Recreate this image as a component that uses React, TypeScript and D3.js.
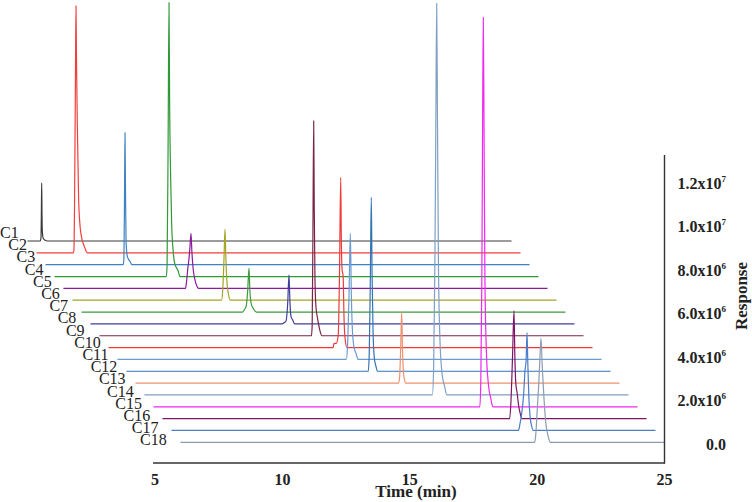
import React from "react";
import * as d3 from "d3";

type Pt = [number, number];

const seriesNames = ["C1","C2","C3","C4","C5","C6","C7","C8","C9","C10","C11","C12","C13","C14","C15","C16","C17","C18"];
const seriesColors = ["#3a3a3a","#f0403c","#3d82c4","#2f9a35","#8a1c9c","#a5a424","#3c9a3c","#3f3f9e","#7a2448","#f03a3a","#6b9ad0","#3474b4","#f0906e","#7f9fc4","#f028f0","#7e1464","#4a7cc8","#8c9cb4"];

const c1: Pt[] = [[6,0],[6.5,0],[6.53,0.15e6],[6.545,1.2e6],[6.558,2.67e6],[6.57,1.2e6],[6.585,0.4e6],[6.62,0.12e6],[6.7,0.03e6],[6.78,0],[25,0]];
const c2: Pt[] = [[6,0],[7.44,0],[7.47,0.1e6],[7.5,3e6],[7.535,9e6],[7.552,1.136e7],[7.57,9e6],[7.6,6.2e6],[7.655,2.4e6],[7.745,0.87e6],[7.9,0.23e6],[7.99,0],[25,0]];
const c3: Pt[] = [[6,0],[9.05,0],[9.08,0.3e6],[9.105,3.5e6],[9.122,6.07e6],[9.14,3.5e6],[9.165,1.0e6],[9.22,0.35e6],[9.32,0.15e6],[9.39,0],[25,0]];
const c4: Pt[] = [[6,0],[10.39,0],[10.42,0.5e6],[10.46,6e6],[10.496,1.26e7],[10.52,8e6],[10.56,4.6e6],[10.6,2.4e6],[10.65,1.3e6],[10.72,0.6e6],[10.85,0.28e6],[10.93,0],[25,0]];
const c5: Pt[] = [[6,0],[10.79,0],[10.83,0.3e6],[10.88,0.9e6],[10.93,1.4e6],[10.965,1.9e6],[11.006,2.53e6],[11.04,1.7e6],[11.09,0.9e6],[11.15,0.45e6],[11.24,0.1e6],[11.3,0],[25,0]];
const c6: Pt[] = [[6,0],[11.85,0],[11.9,0.5e6],[11.95,2e6],[11.987,3.26e6],[12.02,2e6],[12.06,0.9e6],[12.12,0.3e6],[12.2,0],[25,0]];
const c7: Pt[] = [[6,0],[12.32,0],[12.4,0.12e6],[12.47,0.3e6],[12.52,0.9e6],[12.576,2.02e6],[12.61,1.0e6],[12.66,0.4e6],[12.75,0.15e6],[12.86,0],[25,0]];
const c8: Pt[] = [[6,0],[13.5,0],[13.6,0.05e6],[13.68,0.15e6],[13.74,0.9e6],[13.793,2.25e6],[13.83,1.0e6],[13.87,0.35e6],[13.93,0.2e6],[14.02,0],[25,0]];
const c9: Pt[] = [[6,0],[14.32,0],[14.35,0.5e6],[14.38,5e6],[14.409,9.88e6],[14.43,6e6],[14.46,2.5e6],[14.5,1.3e6],[14.56,0.8e6],[14.64,0.3e6],[14.73,0],[25,0]];
const c10: Pt[] = [[6,0],[14.82,0],[14.85,0.18e6],[14.95,0.2e6],[15.02,0.6e6],[15.07,3.5e6],[15.116,7.82e6],[15.14,5e6],[15.17,3.6e6],[15.21,3.3e6],[15.25,1.2e6],[15.3,0.3e6],[15.36,0],[25,0]];
const c11: Pt[] = [[6,0],[14.98,0],[15.03,0.6e6],[15.09,3e6],[15.14,5.8e6],[15.18,3e6],[15.22,1.4e6],[15.28,0.6e6],[15.37,0.25e6],[15.45,0],[25,0]];
const c12: Pt[] = [[6,0],[15.49,0],[15.53,0.8e6],[15.57,4e6],[15.61,8.0e6],[15.64,4.5e6],[15.68,1.8e6],[15.73,0.6e6],[15.8,0.2e6],[15.85,0],[25,0]];
const c13: Pt[] = [[6,0],[16.33,0],[16.37,0.3e6],[16.41,1.6e6],[16.45,3.28e6],[16.48,1.6e6],[16.52,0.5e6],[16.57,0.1e6],[16.6,0],[25,0]];
const c14: Pt[] = [[6,0],[17.3,0],[17.35,1.2e6],[17.4,6e6],[17.44,1.3e7],[17.471,1.8e7],[17.5,1.3e7],[17.54,6e6],[17.6,2.5e6],[17.68,1.0e6],[17.78,0.4e6],[17.87,0],[25,0]];
const c15: Pt[] = [[6,0],[18.81,0],[18.85,1.2e6],[18.89,6e6],[18.92,1.3e7],[18.947,1.79e7],[18.975,1.3e7],[19.01,6e6],[19.07,2.5e6],[19.15,1e6],[19.24,0.4e6],[19.32,0],[25,0]];
const c16: Pt[] = [[6,0],[19.63,0],[19.68,0.8e6],[19.74,2.8e6],[19.799,4.97e6],[19.83,3e6],[19.87,1.6e6],[19.92,1.2e6],[19.98,0.6e6],[20.05,0.2e6],[20.1,0],[25,0]];
const c17: Pt[] = [[6,0],[19.62,0],[19.68,0.3e6],[19.75,0.8e6],[19.82,1.6e6],[19.88,2.8e6],[19.92,3.2e6],[19.956,4.5e6],[19.99,3e6],[20.03,1.5e6],[20.08,0.6e6],[20.14,0.2e6],[20.2,0],[25,0]];
const c18: Pt[] = [[6,0],[19.9,0],[19.95,0.4e6],[20.0,1.4e6],[20.06,2.6e6],[20.1,3.6e6],[20.152,4.78e6],[20.2,3.5e6],[20.27,2e6],[20.35,0.8e6],[20.45,0.2e6],[20.52,0],[25,0]];

const seriesPoints: Pt[][] = [c1,c2,c3,c4,c5,c6,c7,c8,c9,c10,c11,c12,c13,c14,c15,c16,c17,c18];

const timeTicks = [5, 10, 15, 20, 25];
const responseTicks = [0, 2e6, 4e6, 6e6, 8e6, 1e7, 1.2e7];

const W = 752, H = 502;
const DX = 9;        // horizontal depth step per series
const DY = 11.84;    // vertical depth step per series
const FRONT_BASE = 442.3;
const N = seriesNames.length;

export default function App() {
  const x = d3.scaleLinear().domain([5, 25]).range([155, 664.5]);
  const y = d3.scaleLinear().domain([0, 1.2e7]).range([FRONT_BASE, FRONT_BASE - 261]);
  const serif = "'Liberation Serif', 'Times New Roman', serif";

  const paths = seriesPoints.map((pts, i) => {
    const back = N - 1 - i;
    const ox = -back * DX;
    const oy = -back * DY;
    const line = d3.line<Pt>()
      .x(d => x(d[0]) + ox)
      .y(d => y(d[1]) + oy)
      .curve(d3.curveMonotoneX);
    return line(pts) || "";
  });

  const fmt = (v: number) => {
    if (v === 0) return { m: "0.0", e: "" };
    const e = Math.floor(Math.log10(v) + 1e-9);
    const m = v / Math.pow(10, e);
    return { m: m.toFixed(1) + "x10", e: String(e) };
  };

  return (
    <svg width={W} height={H} style={{ position: "absolute", left: 0, top: 0, background: "#fff" }}
      fontFamily={serif}>
      <rect x={0} y={0} width={W} height={H} fill="#fff" />
      {paths.map((d, i) => (
        <path key={seriesNames[i]} d={d} fill="none" stroke={seriesColors[i]} strokeWidth={1.2} strokeLinejoin="round" />
      ))}
      {seriesNames.map((n, i) => (
        <text key={"lab" + n} x={i * 8.24} y={238 + i * 12.2} fontSize={16} fill="#222">{n}</text>
      ))}
      {/* axes */}
      <line x1={153} x2={665} y1={463} y2={463} stroke="#333" strokeWidth={1.4} />
      <line x1={664.5} x2={664.5} y1={155} y2={463.5} stroke="#333" strokeWidth={1.4} />
      {timeTicks.map(t => (
        <text key={"t" + t} x={x(t)} y={485} textAnchor="middle" fontSize={16} fontWeight="bold" fill="#222">{t}</text>
      ))}
      <text x={416} y={497} textAnchor="middle" fontSize={17} fontWeight="bold" fill="#222">Time (min)</text>
      {responseTicks.map(v => {
        const f = fmt(v);
        return (
          <text key={"r" + v} x={726} y={y(v) + 7.3} textAnchor="end" fontSize={16} fontWeight="bold" fill="#222">
            {f.m}
            {f.e && <tspan fontSize={9} dy={-7}>{f.e}</tspan>}
          </text>
        );
      })}
      <text transform="translate(747,296) rotate(-90)" textAnchor="middle" fontSize={17} fontWeight="bold" fill="#222">Response</text>
    </svg>
  );
}
